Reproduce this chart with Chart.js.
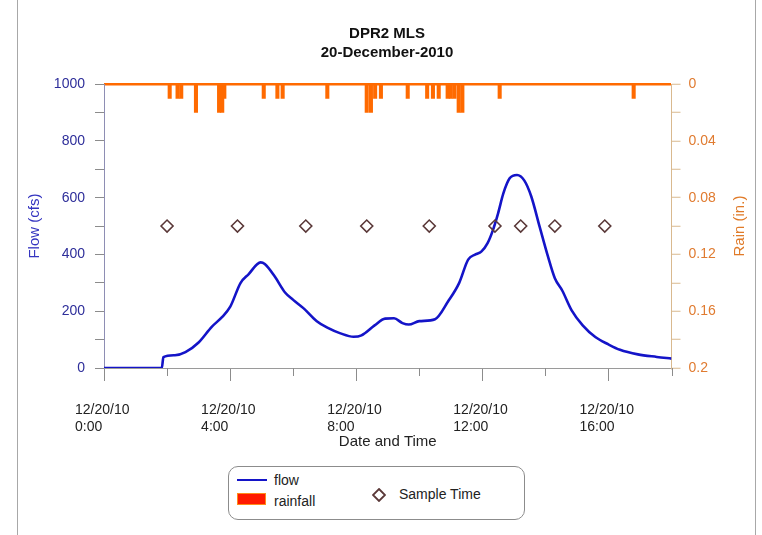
<!DOCTYPE html>
<html>
<head>
<meta charset="utf-8">
<script src="https://cdn.jsdelivr.net/npm/chart.js@4"></script>
<style>
  html, body { margin: 0; padding: 0; background: #fff; }
  #wrap { position: relative; width: 762px; height: 535px; overflow: hidden; }
  #frame { position: absolute; left: 17px; top: 0; width: 739px; height: 535px;
           border-left: 1px solid #a8a8a8; border-right: 1px solid #a8a8a8; box-sizing: border-box; }
  #chart { position: absolute; left: 0; top: 0; }
  #legend { position: absolute; left: 228px; top: 466px; width: 297px; height: 54px; box-sizing: border-box;
            border: 1px solid #8c8c8c; border-radius: 10px; background: #fff;
            font: 14px "Liberation Sans", Arial, sans-serif; color: #222; }
  #legend .item { position: absolute; line-height: 16px; }
  #legend .swatch-line { position: absolute; left: 8px; top: 12px; width: 30px; height: 2px; background: #1414c8; }
  #legend .swatch-box { position: absolute; left: 8px; top: 26px; width: 29px; height: 12px; box-sizing: border-box;
                        background: #ff1a00; border: 1px solid #ff8c1a; }
  #legend svg { position: absolute; left: 143px; top: 21px; }
</style>
</head>
<body>
<div id="wrap">
  <div id="frame"></div>
  <canvas id="chart" width="762" height="535"></canvas>
  <div id="legend">
    <span class="swatch-line"></span>
    <span class="item" style="left:45px; top:5px;">flow</span>
    <span class="swatch-box"></span>
    <span class="item" style="left:45px; top:26px;">rainfall</span>
    <svg width="14" height="14" viewBox="0 0 14 14"><path d="M7 1 L13 7 L7 13 L1 7 Z" fill="none" stroke="#5a3838" stroke-width="1.8"/></svg>
    <span class="item" style="left:170px; top:19px;">Sample Time</span>
  </div>
</div>
<script>
// Flow record, 20 December 2010 (time of day, cfs)
const flowTimes = ['0:00','1:50','1:53','2:15','2:35','3:00','3:25','3:45','4:00','4:20','4:35','4:58','5:06',
  '5:25','5:45','6:00','6:20','6:45','7:05','7:30','7:55','8:10','8:35','8:55','9:12','9:28','9:40','10:00',
  '10:30','10:55','11:16','11:33','11:47','11:58','12:10','12:20','12:30','12:40','12:52','13:06','13:20',
  '13:33','13:49','14:05','14:18','14:32','14:50','15:11','15:35','16:00','16:22','16:56','17:32','18:00'];
const flowValues = [0,0,38,45,56,90,145,180,215,300,330,372,366,
  322,265,240,210,165,142,122,110,115,150,174,175,158,153,165,
  172,235,300,382,400,410,440,485,545,615,668,680,660,
  605,498,392,316,273,203,150,109,83,64,48,39,33];

// Rainfall depths (in.) per recording interval
const rainTimes = ['2:05','2:20','2:27','2:55','3:39','3:45','3:49','5:04','5:30','5:40','7:05',
  '8:20','8:28','8:36','8:47','9:38','10:15','10:26','10:37','10:54','11:00','11:07','11:15','11:22',
  '12:33','16:48'];
const rainValues = [0.01,0.01,0.01,0.02,0.02,0.02,0.01,0.01,0.01,0.01,0.01,
  0.02,0.02,0.01,0.01,0.01,0.01,0.01,0.01,0.01,0.01,0.01,0.02,0.02,
  0.01,0.01];

// Sample collection times, marked along the flow axis
const sampleTimes = ['2:00','4:14','6:24','8:20','10:19','12:24','13:13','14:18','15:53'];
const sampleValues = [500,500,500,500,500,500,500,500,500];

// Axis labelling
const dateLabel = '12/20/10';
const titleLines = ['DPR2 MLS', '20-December-2010'];

const toHours = s => { const [h, m] = s.split(':').map(Number); return h + m / 60; };
const pairs = (times, values) => times.map((t, i) => ({ x: toHours(t), y: values[i] }));

const FONT = '"Liberation Sans", Arial, sans-serif';
Chart.defaults.font.family = FONT;

const axisExtras = {
  id: 'axisExtras',
  afterDraw(chart) {
    const { ctx, chartArea, scales: { x, rain } } = chart;
    ctx.save();
    // short marks at the in-between hours
    ctx.strokeStyle = '#8c8c8c';
    ctx.lineWidth = 1;
    x.ticks.forEach(t => {
      if (t.value % 4 !== 0) {
        const px = Math.round(x.getPixelForValue(t.value)) + 0.5;
        ctx.beginPath();
        ctx.moveTo(px, chartArea.bottom);
        ctx.lineTo(px, chartArea.bottom + 8);
        ctx.stroke();
      }
    });
    // rain axis title, reading bottom to top
    ctx.translate(rain.right - 17, (chartArea.top + chartArea.bottom) / 2);
    ctx.rotate(-Math.PI / 2);
    ctx.fillStyle = '#e07a28';
    ctx.font = '15px ' + FONT;
    ctx.textAlign = 'center';
    ctx.textBaseline = 'middle';
    ctx.fillText('Rain (in.)', 0, 0);
    ctx.restore();
  }
};

new Chart(document.getElementById('chart'), {
  type: 'line',
  data: {
    datasets: [
      {
        label: 'flow',
        type: 'line',
        data: pairs(flowTimes, flowValues),
        yAxisID: 'y',
        borderColor: '#1414c8',
        borderWidth: 2.6,
        pointRadius: 0,
        cubicInterpolationMode: 'monotone',
        order: 1
      },
      {
        label: 'Sample Time',
        type: 'line',
        data: pairs(sampleTimes, sampleValues),
        yAxisID: 'y',
        showLine: false,
        pointStyle: 'rectRot',
        pointRadius: 6,
        pointBorderWidth: 1.6,
        pointBorderColor: '#5a3838',
        pointBackgroundColor: 'rgba(255,255,255,0)',
        order: 0
      },
      {
        label: 'rainfall',
        type: 'bar',
        data: pairs(rainTimes, rainValues),
        yAxisID: 'rain',
        backgroundColor: '#ff6a00',
        borderWidth: 0,
        barThickness: 3.4,
        order: 2
      }
    ]
  },
  options: {
    responsive: false,
    animation: false,
    devicePixelRatio: 1,
    layout: { padding: { left: 17, right: 5, top: 0, bottom: 82 } },
    plugins: {
      legend: { display: false },
      tooltip: { enabled: false },
      title: {
        display: true,
        text: titleLines,
        color: '#111',
        font: { size: 15, weight: 'bold', lineHeight: 1.27 },
        padding: { top: 24, bottom: 22 }
      }
    },
    scales: {
      x: {
        type: 'linear',
        position: 'bottom',
        min: 0,
        max: 18,
        offset: false,
        afterFit: s => { s.height = 85; },
        border: { color: '#9a9a9a', width: 1 },
        grid: {
          offset: false,
          drawOnChartArea: false,
          tickLength: 13,
          tickColor: c => (c.tick && c.tick.value % 4 === 0) ? '#8c8c8c' : 'rgba(0,0,0,0)'
        },
        ticks: {
          stepSize: 2,
          autoSkip: false,
          maxRotation: 0,
          minRotation: 0,
          align: 'start',
          labelOffset: -29,
          padding: 21,
          color: '#222',
          font: { size: 14, lineHeight: 1.2 },
          callback: v => (v % 4 === 0 ? [dateLabel, v + ':00'] : '')
        },
        title: {
          display: true,
          text: 'Date and Time',
          color: '#222',
          font: { size: 15, lineHeight: 1.2 },
          padding: { top: 0, bottom: 2 }
        }
      },
      y: {
        position: 'left',
        min: 0,
        max: 1000,
        afterFit: s => { s.width = 87; },
        border: { color: '#8e8eb4', width: 1 },
        grid: { drawOnChartArea: false, tickLength: 9, tickColor: '#8c8c8c' },
        ticks: {
          stepSize: 100,
          padding: 10,
          color: '#2e2e9a',
          font: { size: 14 },
          callback: v => (v % 200 === 0 ? v : '')
        },
        title: {
          display: true,
          text: 'Flow (cfs)',
          color: '#3535c0',
          font: { size: 15, lineHeight: 1.2 },
          padding: { top: 9, bottom: 0 }
        }
      },
      rain: {
        position: 'right',
        min: 0,
        max: 0.2,
        reverse: true,
        afterFit: s => { s.width = 85.5; },
        border: { color: '#d9b98f', width: 1 },
        grid: {
          drawOnChartArea: true,
          color: c => (c.tick && c.tick.value === 0) ? '#ff6a00' : 'rgba(0,0,0,0)',
          lineWidth: 2.5,
          tickLength: 9,
          tickColor: '#d9b98f',
          tickWidth: 1
        },
        ticks: {
          stepSize: 0.02,
          padding: 8,
          color: '#e07b30',
          font: { size: 14 },
          callback: v => (Math.round(v * 100) % 4 === 0 ? String(+v.toFixed(2)) : '')
        },
        title: { display: false }
      }
    }
  },
  plugins: [axisExtras]
});
</script>
</body>
</html>
